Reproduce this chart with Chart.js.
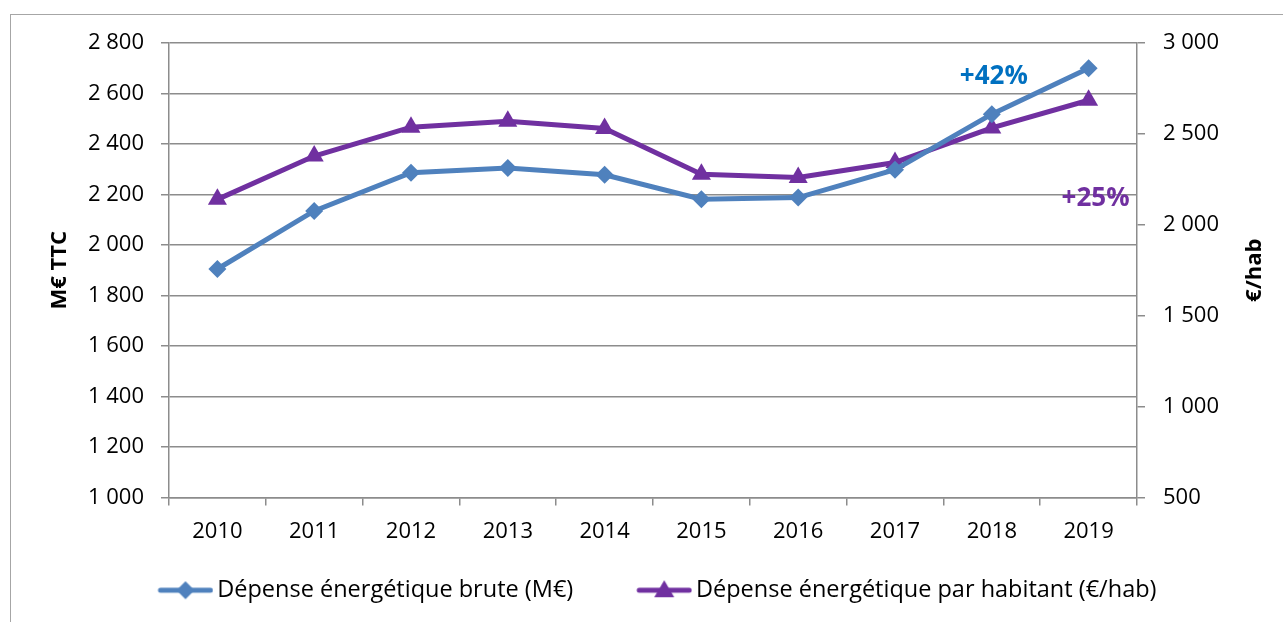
<!DOCTYPE html>
<html>
<head>
<meta charset="utf-8">
<script src="https://cdn.jsdelivr.net/npm/chart.js@4.4.1/dist/chart.umd.min.js"></script>
<style>
  html, body { margin: 0; padding: 0; background: #fff; }
  #wrap { width: 1283px; height: 622px; position: relative; }
</style>
</head>
<body>
<div id="wrap"><canvas id="myChart" width="1283" height="622"></canvas></div>
<script>
// donnees
var years = ['2010', '2011', '2012', '2013', '2014', '2015', '2016', '2017', '2018', '2019'];
var depenseBrute = [1905, 2135, 2286, 2305, 2278, 2181, 2188, 2298, 2518, 2700];
var depenseHab = [2140, 2378, 2537, 2569, 2530, 2278, 2260, 2343, 2533, 2685];
var seriesLabels = ['Dépense énergétique brute (M€)', 'Dépense énergétique par habitant (€/hab)'];
var leftTicks = [1000, 2800, 200];
var rightTicks = [500, 3000, 500];
var annotTexts = ['+42%', '+25%'];
var annotYears = [8, 9];
var annotValues = [2665, 2143];

var BLUE = '#4F81BD';
var PURPLE = '#7030A0';
var GRID = '#8c8c8c';
var FONT = "'Open Sans', sans-serif";

function fmt(v) {
    return String(v).replace(/\B(?=(\d{3})+(?!\d))/g, ' ');
}

// petites images pour la legende (ligne + marqueur), marge vide a gauche
var LEG_BOX = 79;
function legendImage(color, shape) {
    var c = document.createElement('canvas');
    c.width = LEG_BOX + 16; c.height = 26;
    var g = c.getContext('2d');
    var x0 = c.width - 56;
    var cx = x0 + 28;
    g.strokeStyle = color;
    g.lineWidth = 5;
    g.lineCap = 'round';
    g.beginPath();
    g.moveTo(x0 + 3, 13); g.lineTo(x0 + 53, 13);
    g.stroke();
    g.fillStyle = color;
    g.beginPath();
    if (shape === 'diamond') {
        g.moveTo(cx, 4); g.lineTo(cx + 9, 13); g.lineTo(cx, 22); g.lineTo(cx - 9, 13);
    } else {
        g.moveTo(cx, 3); g.lineTo(cx + 10, 20); g.lineTo(cx - 10, 20);
    }
    g.closePath();
    g.fill();
    return c;
}
var legendImgs = [legendImage(BLUE, 'diamond'), legendImage(PURPLE, 'triangle')];

var framePlugin = {
    id: 'frame',
    beforeDraw: function (chart) {
        var ctx = chart.ctx;
        ctx.save();
        ctx.fillStyle = '#fff';
        ctx.fillRect(0, 0, chart.width, chart.height);
        ctx.strokeStyle = '#a6a6a6';
        ctx.lineWidth = 1;
        ctx.strokeRect(10.5, 14.5, 1400, 800);
        ctx.restore();
    },
    afterDatasetsDraw: function (chart) {
        var ctx = chart.ctx;
        var x = chart.scales.x;
        var area = chart.chartArea;
        ctx.save();
        ctx.font = 'bold 26px ' + FONT;
        ctx.textAlign = 'center';
        ctx.textBaseline = 'middle';
        ctx.fillStyle = '#0070C0';
        ctx.fillText(annotTexts[0], x.getPixelForValue(annotYears[0]) + 2, chart.scales.y.getPixelForValue(annotValues[0]));
        ctx.fillStyle = PURPLE;
        ctx.fillText(annotTexts[1], x.getPixelForValue(annotYears[1]) + 7, chart.scales.y1.getPixelForValue(annotValues[1]));
        // titre axe droit, lu de bas en haut
        ctx.font = 'bold 22px ' + FONT;
        ctx.fillStyle = '#000';
        ctx.translate(1255, (area.top + area.bottom) / 2);
        ctx.rotate(-Math.PI / 2);
        ctx.fillText('€/hab', 0, 0);
        ctx.restore();
    }
};

var ctx = document.getElementById('myChart').getContext('2d');
var myChart = new Chart(ctx, {
    type: 'line',
    data: {
        labels: years,
        datasets: [{
            label: seriesLabels[0],
            data: depenseBrute,
            yAxisID: 'y',
            borderColor: BLUE,
            backgroundColor: BLUE,
            borderWidth: 5,
            pointStyle: 'rectRot',
            pointRadius: 9,
            pointBorderWidth: 0,
            tension: 0
        }, {
            label: seriesLabels[1],
            data: depenseHab,
            yAxisID: 'y1',
            borderColor: PURPLE,
            backgroundColor: PURPLE,
            borderWidth: 5,
            pointStyle: 'triangle',
            pointRadius: 11,
            pointBorderWidth: 0,
            tension: 0
        }]
    },
    options: {
        responsive: false,
        animation: false,
        devicePixelRatio: 1,
        layout: { padding: { top: 43, bottom: 10, left: 0, right: 0 } },
        plugins: {
            tooltip: { enabled: false },
            legend: {
                position: 'bottom',
                labels: {
                    usePointStyle: true,
                    pointStyleWidth: LEG_BOX,
                    padding: 32,
                    color: '#000',
                    font: { family: FONT, size: 23.5 },
                    generateLabels: function (chart) {
                        return chart.data.datasets.map(function (ds, i) {
                            return {
                                text: ds.label,
                                pointStyle: legendImgs[i],
                                fillStyle: ds.borderColor,
                                strokeStyle: ds.borderColor,
                                lineWidth: 0,
                                hidden: false,
                                datasetIndex: i
                            };
                        });
                    }
                }
            }
        },
        scales: {
            x: {
                offset: true,
                grid: { offset: true, drawOnChartArea: false, tickLength: 8, color: GRID, lineWidth: 1.5 },
                border: { color: GRID, width: 1.5 },
                ticks: { padding: 13, color: '#000', font: { family: FONT, size: 22 } },
                afterFit: function (s) { s.height = 49; }
            },
            y: {
                position: 'left',
                min: leftTicks[0],
                max: leftTicks[1],
                ticks: { stepSize: leftTicks[2], padding: 17, color: '#000', font: { family: FONT, size: 22 }, callback: fmt },
                grid: { color: GRID, lineWidth: 1.5, tickLength: 8 },
                border: { color: GRID, width: 1.5 },
                title: { display: true, text: 'M€ TTC', color: '#000', font: { family: FONT, size: 22, weight: 'bold' }, padding: { top: 47, bottom: 0 } },
                afterFit: function (s) { s.width = 169; }
            },
            y1: {
                position: 'right',
                min: rightTicks[0],
                max: rightTicks[1],
                ticks: { stepSize: rightTicks[2], padding: 18, color: '#000', font: { family: FONT, size: 22 }, callback: fmt },
                grid: { drawOnChartArea: false, color: GRID, lineWidth: 1.5, tickLength: 8 },
                border: { color: GRID, width: 1.5 },
                afterFit: function (s) { s.width = 146; }
            }
        }
    },
    plugins: [framePlugin]
});
</script>
</body>
</html>
